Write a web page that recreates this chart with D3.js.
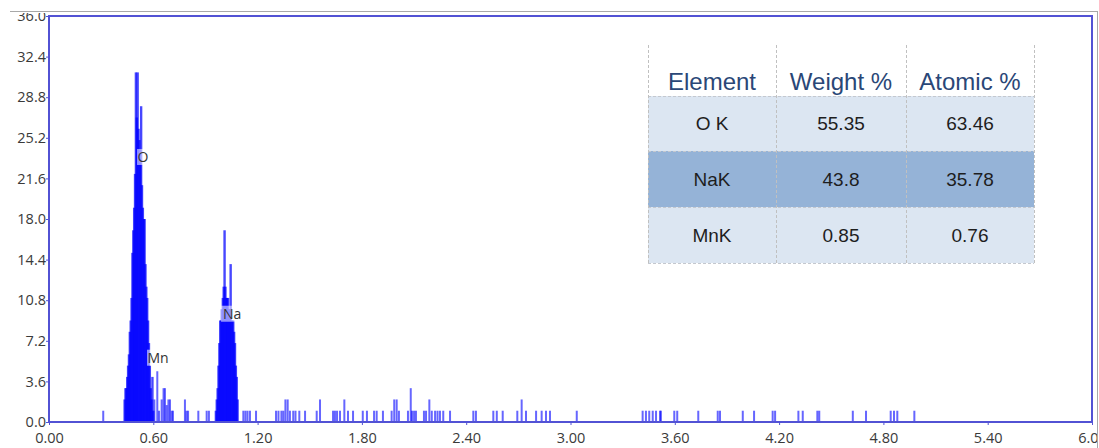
<!DOCTYPE html>
<html>
<head>
<meta charset="utf-8">
<script src="https://cdn.jsdelivr.net/npm/d3@7"></script>
<style>
  html, body { margin: 0; padding: 0; background: #fff; }
  svg { display: block; }
</style>
</head>
<body>
<svg id="chart" width="1099" height="448"></svg>
<script>
// EDS spectrum: energy (keV) vs counts, with quantification table.

// Oxygen K peak channels
const oPeakKeV = [0.435,0.440,0.445,0.450,0.455,0.460,0.465,0.470,0.475,0.480,0.485,0.490,0.495,0.500,0.505,0.510,0.515,0.520,0.525,0.530,0.535,0.540,0.545,0.550,0.555,0.560,0.565,0.570,0.575,0.580,0.585,0.590,0.595,0.600];
const oPeakCounts = [2,3,3,4,5,6,8,9,11,15,17,19,22,31,27,31,26,25,23,28,21,19,18,18,14,12,11,9,7,5,3,2,4,1];

// Sodium K peak channels
const naPeakKeV = [0.960,0.965,0.970,0.975,0.980,0.985,0.990,0.995,1.000,1.005,1.010,1.015,1.020,1.025,1.030,1.035,1.040,1.045,1.050,1.055,1.060,1.065,1.070,1.075,1.080,1.085];
const naPeakCounts = [1,2,3,5,7,9,9,10,11,12,17,12,11,11,11,10,10,14,9,9,9,8,7,5,4,2];

// Sparse low-count channels (Mn region and background)
const minorKeV = [0.312,0.606,0.623,0.633,0.648,0.659,0.667,0.677,0.687,0.696,0.706,0.713,0.782,0.791,0.800,0.859,0.907,0.920,
  1.118,1.130,1.142,1.156,1.191,1.306,1.320,1.337,1.348,1.360,1.373,1.386,1.405,1.418,1.440,1.473,1.540,1.559,1.634,1.645,1.657,1.674,1.699,1.720,1.749,1.805,1.829,1.870,1.885,1.921,1.971,1.986,2.000,2.013,2.065,2.081,2.088,2.100,2.111,2.157,2.169,2.188,2.202,2.221,2.235,2.249,2.268,2.307,2.441,2.456,2.556,2.576,2.610,2.694,2.719,2.744,2.802,2.834,2.859,2.882,3.036,
  3.415,3.434,3.453,3.473,3.492,3.515,3.520,3.597,3.614,3.735,3.847,3.860,3.991,4.056,4.163,4.177,4.311,4.336,4.420,4.431,4.624,4.700,4.842,4.861,4.880,4.978];
const minorCounts = [1,2,4.5,1,2,3,3,1.5,2,2,1,1,2,1,1,1,1,1,
  1,1,1,1,1,1,1,1,1,2,2,1,1,1,1,1,1,2,1,1,1,1,2,1,1,1,1,1,1,1,1,2,2,1,1,3,1,1,1,1,1,2,1,1,1,1,1,1,1,1,1,1,1,1,2,1,1,1,1,1,1,
  1,1,1,1,1,1,1,1,1,1,1,1,1,1,1,1,1,1,1,1,1,1,1,1,1,1];

// Element line markers
const peakLabels = ["O", "Na", "Mn"];
const peakLabelKeV = [0.541, 1.053, 0.627];
const peakLabelCounts = [23.5, 9.6, 5.7];

// Axis ticks
const xTickValues = [0, 0.6, 1.2, 1.8, 2.4, 3.0, 3.6, 4.2, 4.8, 5.4, 6.0];
const xTickLabels = ["0.00","0.60","1.20","1.80","2.40","3.00","3.60","4.20","4.80","5.40","6.00"];
const yTickValues = [0, 3.6, 7.2, 10.8, 14.4, 18.0, 21.6, 25.2, 28.8, 32.4, 36.0];
const yTickLabels = ["0.0","3.6","7.2","10.8","14.4","18.0","21.6","25.2","28.8","32.4","36.0"];

// Quantification table
const tableHeaders = ["Element", "Weight %", "Atomic %"];
const tableElements = ["O K", "NaK", "MnK"];
const tableWeight = ["55.35", "43.8", "0.85"];
const tableAtomic = ["63.46", "35.78", "0.76"];

const svg = d3.select("#chart");
const frameColor = "#5252d4";

const x = d3.scaleLinear().domain([0, 6]).range([49, 1092]);
const y = d3.scaleLinear().domain([0, 36]).range([422, 16]);

// outer panel edge
svg.append("line").attr("x1", 10).attr("x2", 1097).attr("y1", 11.5).attr("y2", 11.5)
  .attr("stroke", "#a8a8a8").attr("stroke-width", 1);
svg.append("line").attr("x1", 1097.5).attr("x2", 1097.5).attr("y1", 11).attr("y2", 448)
  .attr("stroke", "#a8a8a8").attr("stroke-width", 1);

svg.append("defs").append("clipPath").attr("id", "panel")
  .append("rect").attr("x", 0).attr("y", 13).attr("width", 1097).attr("height", 435);

const g = svg.append("g").attr("clip-path", "url(#panel)");

// spectrum channels: dense peak channels overlap into a solid body,
// isolated channels show as thin lighter lines
const peakChannels = []
  .concat(oPeakKeV.map((e, i) => ({ e, c: oPeakCounts[i] })))
  .concat(naPeakKeV.map((e, i) => ({ e, c: naPeakCounts[i] })));
const minorChannels = minorKeV.map((e, i) => ({ e, c: minorCounts[i] }));

g.append("g").selectAll("rect").data(minorChannels).join("rect")
  .attr("x", d => x(d.e) - 1)
  .attr("width", 2)
  .attr("y", d => y(d.c))
  .attr("height", d => y(0) - y(d.c))
  .attr("fill", "#0000ff")
  .attr("fill-opacity", 0.6);

g.append("g").selectAll("rect").data(peakChannels).join("rect")
  .attr("x", d => x(d.e) - 1.2)
  .attr("width", 2.4)
  .attr("y", d => y(d.c))
  .attr("height", d => y(0) - y(d.c))
  .attr("fill", "#0000ff")
  .attr("fill-opacity", 0.72);

// element labels with translucent backing
const lab = g.append("g").selectAll("g").data(peakLabels).join("g")
  .attr("transform", (d, i) => `translate(${x(peakLabelKeV[i])},${y(peakLabelCounts[i])})`);
lab.append("rect")
  .attr("x", d => -d.length * 5 - 1).attr("y", -8)
  .attr("width", d => d.length * 10 + 2).attr("height", 16)
  .attr("fill", "#fff").attr("fill-opacity", 0.55);
lab.append("text")
  .attr("text-anchor", "middle").attr("dy", "0.35em")
  .attr("font-family", "'Open Sans', sans-serif").attr("font-size", 14)
  .attr("fill", "#333")
  .text(d => d);

// axes
const xAxis = g.append("g").attr("transform", "translate(0,422)")
  .call(d3.axisBottom(x).tickValues(xTickValues).tickSize(3).tickPadding(8)
    .tickFormat((d, i) => xTickLabels[i]));
const yAxis = g.append("g").attr("transform", "translate(49,0)")
  .call(d3.axisLeft(y).tickValues(yTickValues).tickSize(3).tickPadding(0)
    .tickFormat((d, i) => yTickLabels[i]));
[xAxis, yAxis].forEach(a => {
  a.select(".domain").remove();
  a.selectAll(".tick line").attr("stroke", frameColor);
  a.selectAll(".tick text")
    .attr("font-family", "'Open Sans', sans-serif").attr("font-size", 14.5)
    .attr("fill", "#3a3a3a");
});

// plot frame
g.append("rect").attr("x", 49).attr("y", 16).attr("width", 1092 - 49).attr("height", 422 - 16)
  .attr("fill", "none").attr("stroke", frameColor).attr("stroke-width", 2);

// quantification table
const colX = [648, 776, 906, 1034];
const rowY = [45, 96, 151, 207, 263];
const rowFill = ["#dce6f2", "#95b3d7", "#dce6f2"];
const tbl = svg.append("g");

rowFill.forEach((f, i) => {
  tbl.append("rect").attr("x", colX[0]).attr("y", rowY[i + 1])
    .attr("width", colX[3] - colX[0]).attr("height", rowY[i + 2] - rowY[i + 1])
    .attr("fill", f);
});
rowY.slice(1).forEach(yy => {
  tbl.append("line").attr("x1", colX[0]).attr("x2", colX[3]).attr("y1", yy + 0.5).attr("y2", yy + 0.5)
    .attr("stroke", "#c4c8cf").attr("stroke-dasharray", "3,2");
});
colX.forEach(xx => {
  tbl.append("line").attr("x1", xx + 0.5).attr("x2", xx + 0.5).attr("y1", rowY[0]).attr("y2", rowY[4])
    .attr("stroke", "#c0c0c0").attr("stroke-dasharray", "3,2");
});

const colCenter = i => (colX[i] + colX[i + 1]) / 2;
tbl.selectAll("text.hdr").data(tableHeaders).join("text").attr("class", "hdr")
  .attr("x", (d, i) => colCenter(i)).attr("y", 90)
  .attr("text-anchor", "middle")
  .attr("font-family", "'Liberation Sans', Arial, sans-serif").attr("font-size", 24)
  .attr("fill", "#2a4777")
  .text(d => d);

const tableCols = [tableElements, tableWeight, tableAtomic];
tableCols.forEach((col, ci) => {
  tbl.selectAll(`text.c${ci}`).data(col).join("text").attr("class", `c${ci}`)
    .attr("x", colCenter(ci))
    .attr("y", (d, ri) => (rowY[ri + 1] + rowY[ri + 2]) / 2)
    .attr("dy", "0.35em")
    .attr("text-anchor", "middle")
    .attr("font-family", "'Liberation Sans', Arial, sans-serif").attr("font-size", 19)
    .attr("fill", "#1e1e1e")
    .text(d => d);
});
</script>
</body>
</html>
